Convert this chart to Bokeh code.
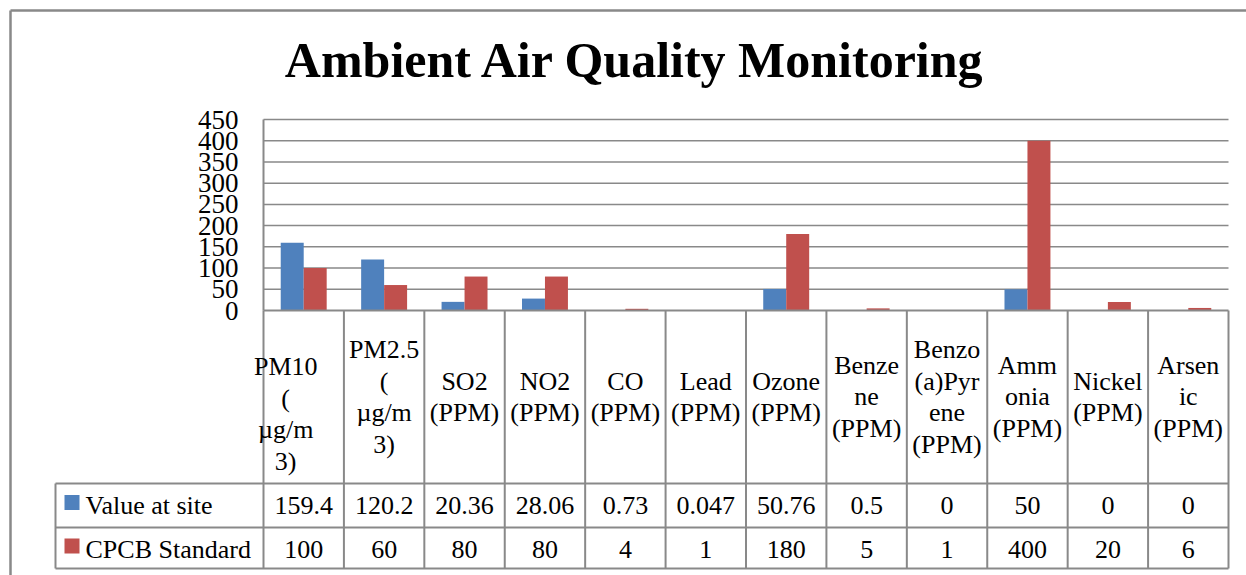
from bokeh.plotting import figure
from bokeh.models import Range1d, LinearAxis, FixedTicker, ColumnDataSource
from bokeh.core.properties import value
from bokeh.embed import file_html
from bokeh.resources import INLINE

# ---------------- data ----------------
title = "Ambient Air Quality Monitoring"
categories = [
    "PM10\n(\nµg/m\n3)",
    "PM2.5\n(\nµg/m\n3)",
    "SO2\n(PPM)",
    "NO2\n(PPM)",
    "CO\n(PPM)",
    "Lead\n(PPM)",
    "Ozone\n(PPM)",
    "Benze\nne\n(PPM)",
    "Benzo\n(a)Pyr\nene\n(PPM)",
    "Amm\nonia\n(PPM)",
    "Nickel\n(PPM)",
    "Arsen\nic\n(PPM)",
]
series_names = ["Value at site", "CPCB Standard"]
value_at_site = [159.4, 120.2, 20.36, 28.06, 0.73, 0.047, 50.76, 0.5, 0, 50, 0, 0]
cpcb_standard = [100, 60, 80, 80, 4, 1, 180, 5, 1, 400, 20, 6]
y_ticks = [0, 50, 100, 150, 200, 250, 300, 350, 400, 450]

# ---------------- style / layout (page pixels) ----------------
FONT = "Liberation Serif"
BLUE = "#4F81BD"
RED = "#C0504D"
GRAY = "#898989"
PAGE = 0
W, H = 1246, 575
PX_L, PX_R = 263, 1228          # plot area left/right
PY_T, PY_B = 119, 310           # plot area top/bottom (450 / 0)
ROW1_T, ROW2_T, TBL_B = 483, 527, 568
LEG_L = 55
YMAX = y_ticks[-1]

n = len(categories)
cw = (PX_R - PX_L) / n          # px per category
k = (PY_B - PY_T) / YMAX        # px per unit

x_range = Range1d((PAGE - PX_L) / cw, (PAGE + W - PX_L) / cw)
y_range = Range1d(-(PAGE + H - PY_B) / k, YMAX + (PY_T - PAGE) / k)

p = figure(width=W, height=H, x_range=x_range, y_range=y_range,
           output_backend="svg", toolbar_location=None,
           x_axis_location=None, y_axis_location=None,
           min_border=0, min_border_left=0, min_border_right=0,
           min_border_top=0, min_border_bottom=0)
p.extra_x_ranges = {"px": Range1d(PAGE, PAGE + W)}
p.extra_y_ranges = {"px": Range1d(PAGE + H, PAGE)}
p.outline_line_color = None
p.background_fill_color = "white"
p.border_fill_color = "white"
p.grid.visible = False

PX = dict(x_range_name="px", y_range_name="px")

# y axis sitting at category 0 (left edge of the plot area)
yax = LinearAxis(fixed_location=0, ticker=FixedTicker(ticks=y_ticks), bounds=(0, YMAX))
yax.axis_line_color = GRAY
yax.axis_line_width = 2
yax.major_tick_in = 0
yax.major_tick_out = 0
yax.minor_tick_in = 0
yax.minor_tick_out = 0
yax.major_label_standoff = 25
yax.major_label_text_font = FONT
yax.major_label_text_font_size = "27px"
yax.major_label_text_color = "black"
p.add_layout(yax, "left")

# horizontal gridlines
gl = [t for t in y_ticks if t > 0]
p.segment(x0=[0] * len(gl), x1=[n] * len(gl), y0=gl, y1=gl,
          line_color=GRAY, line_width=1.5)

# bars
bw = 1 / 3.5
idx = list(range(n))
src = ColumnDataSource(dict(
    xb=[i + 0.5 - bw / 2 for i in idx],
    xr=[i + 0.5 + bw / 2 for i in idx],
    site=value_at_site, std=cpcb_standard))
p.vbar(x="xb", top="site", bottom=0, width=bw, source=src,
       fill_color=BLUE, line_color=None)
p.vbar(x="xr", top="std", bottom=0, width=bw, source=src,
       fill_color=RED, line_color=None)

# ---------------- data table ----------------
col_x = [PX_L + cw * i for i in range(n + 1)]
p.segment(x0=col_x, x1=col_x, y0=[PY_B] * len(col_x), y1=[TBL_B] * len(col_x),
          line_color=GRAY, line_width=2, **PX)
p.segment(x0=[LEG_L], x1=[LEG_L], y0=[ROW1_T], y1=[TBL_B],
          line_color=GRAY, line_width=2, **PX)
p.segment(x0=[PX_L, LEG_L, LEG_L, LEG_L], x1=[PX_R] * 4,
          y0=[PY_B, ROW1_T, ROW2_T, TBL_B], y1=[PY_B, ROW1_T, ROW2_T, TBL_B],
          line_color=GRAY, line_width=2, **PX)

centers = [PX_L + cw * (i + 0.5) for i in idx]
label_dx = [-18] + [0] * (n - 1)
label_dy = [17] + [0] * (n - 1)
p.text(x=centers, y=[(PY_B + ROW1_T) / 2] * n, text=categories,
       x_offset=label_dx, y_offset=label_dy,
       text_font=value(FONT), text_font_size="26px", text_color="black",
       text_align="center", text_baseline="middle", text_line_height=1.09, **PX)

fmt = lambda v: f"{v:g}"
p.text(x=centers, y=[(ROW1_T + ROW2_T) / 2] * n, text=[fmt(v) for v in value_at_site],
       text_font=value(FONT), text_font_size="26px", text_color="black",
       text_align="center", text_baseline="middle", **PX)
p.text(x=centers, y=[(ROW2_T + TBL_B) / 2 + 1] * n, text=[fmt(v) for v in cpcb_standard],
       text_font=value(FONT), text_font_size="26px", text_color="black",
       text_align="center", text_baseline="middle", **PX)

# legend keys inside the table
row_c = [(ROW1_T + ROW2_T) / 2, (ROW2_T + TBL_B) / 2 + 1]
p.rect(x=[71.5, 71.5], y=[r - 3 for r in row_c], width=15, height=15,
       fill_color=[BLUE, RED], line_color=None, **PX)
p.text(x=[85, 85], y=row_c, text=series_names,
       text_font=value(FONT), text_font_size="26px", text_color="black",
       text_align="left", text_baseline="middle", **PX)

# title
p.text(x=[635], y=[59], text=[title], text_font=value(FONT), text_font_size="50px",
       text_font_style="bold", text_color="black",
       text_align="center", text_baseline="middle", **PX)

# chart area border
p.segment(x0=[10, 10], x1=[10, PAGE + W], y0=[10, 10], y1=[PAGE + H, 10],
          line_color=GRAY, line_width=2.5, **PX)

open("out.html", "w").write(file_html(p, INLINE))
